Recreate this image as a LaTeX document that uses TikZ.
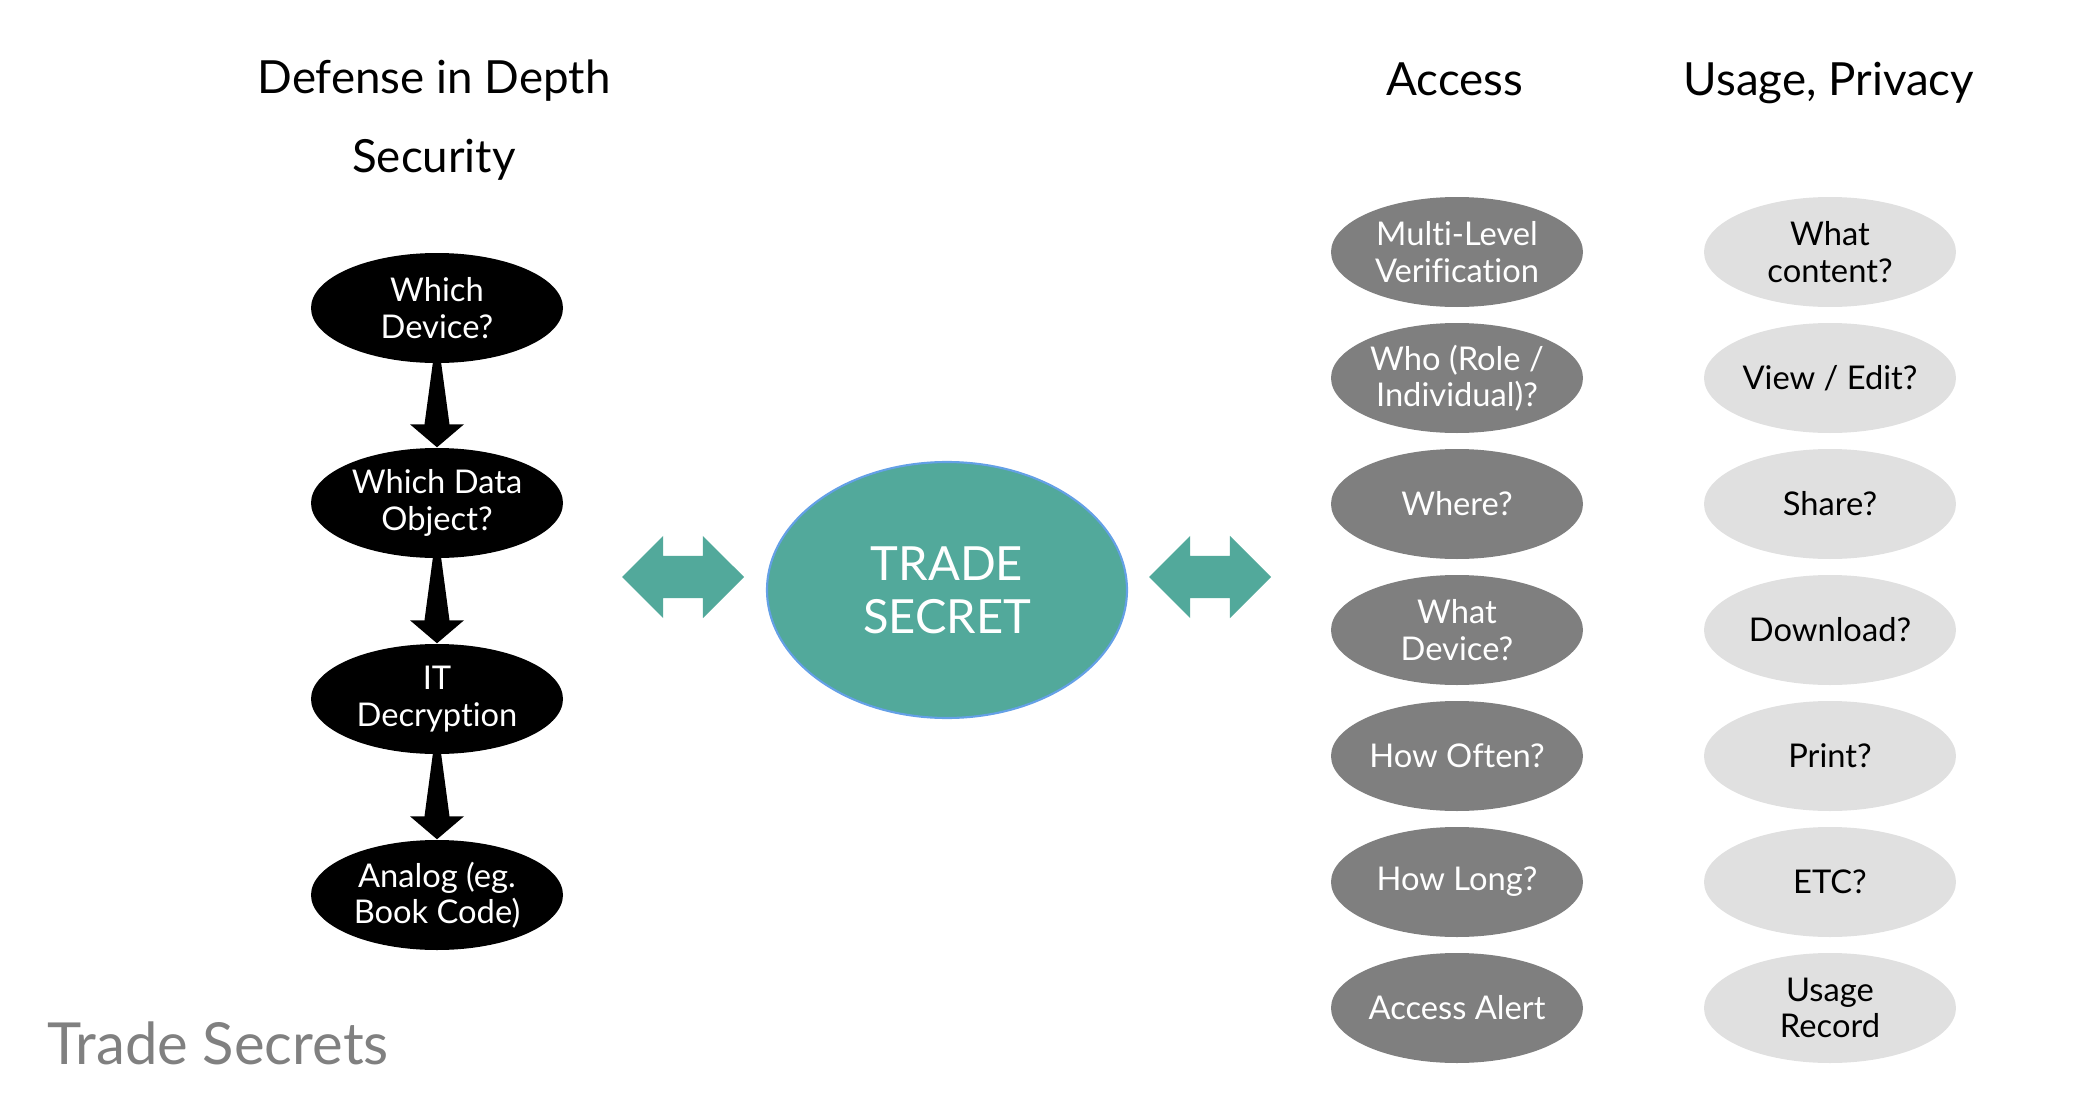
\documentclass[tikz,border=0pt]{standalone}
\usepackage{fontspec}
\setmainfont{Lato}[Ligatures=NoCommon]
\usetikzlibrary{shapes.geometric,shapes.arrows,calc}
\definecolor{tsgreen}{RGB}{82,169,155}
\definecolor{tsblue}{RGB}{100,160,230}
\definecolor{accgrey}{RGB}{127,127,127}
\definecolor{usegrey}{RGB}{224,224,224}
\definecolor{footgrey}{RGB}{128,128,128}
\tikzset{
  bubble/.style={ellipse,inner sep=0pt,align=center,minimum width=25.2mm,minimum height=11mm,font=\fontsize{9.3}{10.4}\selectfont},
  blackq/.style={bubble,fill=black,text=white},
  accessq/.style={bubble,fill=accgrey,text=white},
  usageq/.style={bubble,fill=usegrey,text=black},
  twoway/.style={double arrow,fill=tsgreen,inner xsep=0pt,inner ysep=2.05mm,minimum height=12.2mm,double arrow head extend=2mm},
  heading/.style={anchor=base,inner sep=0pt,font=\fontsize{13}{15}\selectfont}
}
\begin{document}
\begin{tikzpicture}[x=0.1mm,y=0.1mm]
  \useasboundingbox (0,0) rectangle (2078,1112);
  \def\taper#1#2{\fill ($(#1.south)+(-4,2)$) -- ($(#2.north)+(-12.5,23)$) -- ($(#2.north)+(-27,23)$) -- (#2.north)
    -- ($(#2.north)+(27,23)$) -- ($(#2.north)+(12.5,23)$) -- ($(#1.south)+(4,2)$) -- cycle;}%fleche effilee
  % titres
  \node[heading] (defense) at (434,1018) {Defense in Depth};
  \node[heading] (security) at (434,940) {Security};
  \node[heading] (access) at (1455,1017) {Access};
  \node[heading] (usage) at (1829,1017) {Usage, Privacy};
  % colonne de gauche
  \node[blackq] (device) at (437,804) {Which\\Device?};
  \node[blackq] (object) at (437,609) {Which Data\\Object?};
  \node[blackq] (decrypt) at (437,413) {IT\\Decryption};
  \node[blackq] (analog) at (437,217) {Analog (eg.\\Book Code)};
  \taper{device}{object}
  \taper{object}{decrypt}
  \taper{decrypt}{analog}
  % centre
  \node[twoway] (leftarr) at (683,535) {};
  \node[ellipse,fill=tsgreen,draw=tsblue,line width=0.6pt,minimum width=36mm,minimum height=25.6mm,
    text=white,align=center,font=\fontsize{13.4}{15}\selectfont] (secret) at (947,522) {TRADE\\SECRET};
  \node[twoway] (rightarr) at (1210,535) {};
  % acces
  \node[accessq] (multi) at (1457,860) {Multi-Level\\Verification};
  \node[accessq] (who) at (1457,734) {Who (Role /\\Individual)?};
  \node[accessq] (where) at (1457,608) {Where?};
  \node[accessq] (whatdev) at (1457,482) {What\\Device?};
  \node[accessq] (often) at (1457,356) {How Often?};
  \node[accessq] (long) at (1457,230) {How Long?};
  \node[accessq] (alert) at (1457,104) {Access Alert};
  % usage
  \node[usageq] (content) at (1830,860) {What\\content?};
  \node[usageq] (edit) at (1830,734) {View / Edit?};
  \node[usageq] (share) at (1830,608) {Share?};
  \node[usageq] (download) at (1830,482) {Download?};
  \node[usageq] (print) at (1830,356) {Print?};
  \node[usageq] (etc) at (1830,230) {ETC?};
  \node[usageq] (record) at (1830,104) {Usage\\Record};
  \node[anchor=base west,inner sep=0pt,text=footgrey,font=\fontsize{16.5}{18}\selectfont] (footer) at (47,48) {Trade Secrets};
\end{tikzpicture}
\end{document}
